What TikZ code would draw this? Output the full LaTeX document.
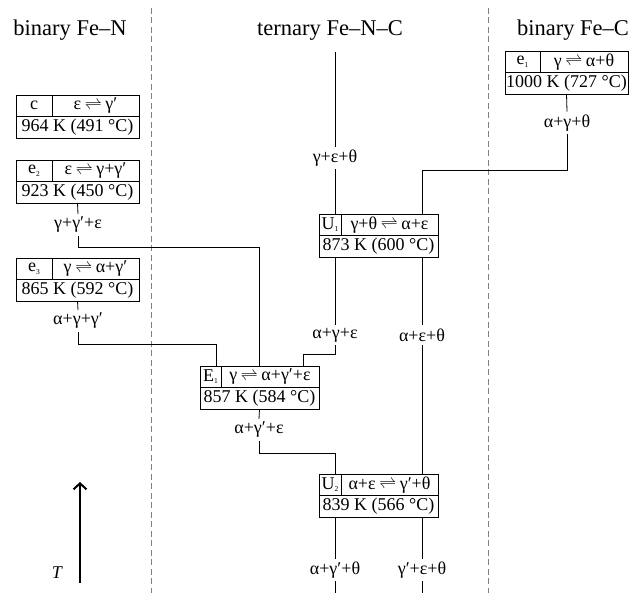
\documentclass[tikz,border=0pt]{standalone}
\usepackage{fontspec}
\setmainfont{Liberation Serif}
\usetikzlibrary{arrows.meta,calc}
\newcommand\fs{\fontsize{18}{20}\selectfont}
\newcommand\ts{\fontsize{22.5}{26}\selectfont}
\newcommand\rx{\hspace{0.2em}$\rightleftharpoons$\hspace{0.2em}}
\newcommand\sub[1]{\raisebox{-2.5pt}{\fontsize{7.5}{7.5}\selectfont #1}}
\tikzset{
  cell/.style={draw, line width=0.8pt, inner sep=0pt, outer sep=0pt, anchor=north west, minimum height=21.5pt, font=\fs},
  phase/.style={inner xsep=0pt, inner ysep=3pt, font=\fs},
  ttl/.style={font=\ts, anchor=base, inner sep=0pt},
  conn/.style={line width=0.8pt},
  sep/.style={draw=gray, line width=0.9pt, dash pattern=on 6pt off 3.5pt}
}
\newcommand\tbox[8]{%
  \node[cell, minimum width={#4*1pt}] (#1a) at (#2,#3) {#6};
  \node[cell, minimum width={(#5-#4)*1pt}] (#1b) at (#1a.north east) {#7};
  \node[cell, minimum width={#5*1pt}] (#1c) at (#1a.south west) {#8};}
\begin{document}
\begin{tikzpicture}[x=1pt,y=-1pt]
\useasboundingbox (0,0) rectangle (631,593);
% separators
\draw[sep] (151,8) -- (151,593);
\draw[sep] (488,8) -- (488,593);
% titles
\node[ttl] (tN) at (70,36) {binary Fe–N};
\node[ttl] (tNC) at (330,36) {ternary Fe–N–C};
\node[ttl] (tC) at (573,36) {binary Fe–C};
% boxes
\tbox{c}{16}{95}{36}{123}{c}{ε\rx γ′}{964 K (491 °C)}
\tbox{eii}{16}{160}{36}{123}{e\sub{2}}{ε\rx γ+γ′}{923 K (450 °C)}
\tbox{eiii}{16}{258}{36}{123}{e\sub{3}}{γ\rx α+γ′}{865 K (592 °C)}
\tbox{ei}{505}{51}{35}{123}{e\sub{1}}{γ\rx α+θ}{1000 K (727 °C)}
\tbox{Ui}{319}{214}{22}{119}{U\sub{1}}{γ+θ\rx α+ε}{873 K (600 °C)}
\tbox{Ei}{200}{366}{21}{119}{E\sub{1}}{γ\rx α+γ′+ε}{857 K (584 °C)}
\tbox{Uii}{319}{474}{22}{119}{U\sub{2}}{α+ε\rx γ′+θ}{839 K (566 °C)}
% phase labels
\node[phase] (pGET) at (335,158) {γ+ε+θ};
\node[phase] (pAGT) at (567,123) {α+γ+θ};
\node[phase] (pGGE) at (78,225) {γ+γ′+ε};
\node[phase] (pAGG) at (78,321) {α+γ+γ′};
\node[phase] (pAGE) at (335,335) {α+γ+ε};
\node[phase] (pAET) at (422,335) {α+ε+θ};
\node[phase] (pAGpE) at (259,430) {α+γ′+ε};
\node[phase] (pAGpT) at (335,570) {α+γ′+θ};
\node[phase] (pGpET) at (422,570) {γ′+ε+θ};
% coordinates
\coordinate (top) at (335,52);
\coordinate (k1) at (422,170);
\coordinate (k2) at (303,354);
\coordinate (k3) at (259,247);
\coordinate (k4) at (216,344);
\coordinate (k5) at (335,453);
\coordinate (b1) at (335,593);
\coordinate (b2) at (422,593);
% connectors
\draw[conn] (top) -- (pGET.north);
\draw[conn] (pGET.south) -- (pGET.south |- Uia.north);
\draw[conn] (eic.south) -- (pAGT.north);
\draw[conn] (pAGT.south) |- (k1) -- (k1 |- Uib.north);
\draw[conn] (Uic.south -| pAGE) -- (pAGE.north);
\draw[conn] (Uic.south -| pAET) -- (pAET.north);
\draw[conn] (pAGE.south) |- (k2) -- (k2 |- Eib.north);
\draw[conn] (pAET.south) -- (pAET.south |- Uiib.north);
\draw[conn] (eiic.south) -- (pGGE.north);
\draw[conn] (pGGE.south) |- (k3) -- (k3 |- Eib.north);
\draw[conn] (eiiic.south) -- (pAGG.north);
\draw[conn] (pAGG.south) |- (k4) -- (k4 |- Eia.north);
\draw[conn] (Eic.south) -- (pAGpE.north);
\draw[conn] (pAGpE.south) |- (k5) -- (k5 |- Uiia.north);
\draw[conn] (Uiic.south -| pAGpT) -- (pAGpT.north);
\draw[conn] (pAGpT.south) -- (b1);
\draw[conn] (Uiic.south -| pGpET) -- (pGpET.north);
\draw[conn] (pGpET.south) -- (b2);
% temperature arrow
\coordinate (Tb) at (80,583);
\coordinate (Tt) at (80,482);
\draw[line width=2pt, -{Straight Barb[length=6pt,width=13pt]}] (Tb) -- (Tt);
\node[font=\fs\itshape, inner sep=0pt] (Tl) at (57,573) {T};
\end{tikzpicture}
\end{document}
